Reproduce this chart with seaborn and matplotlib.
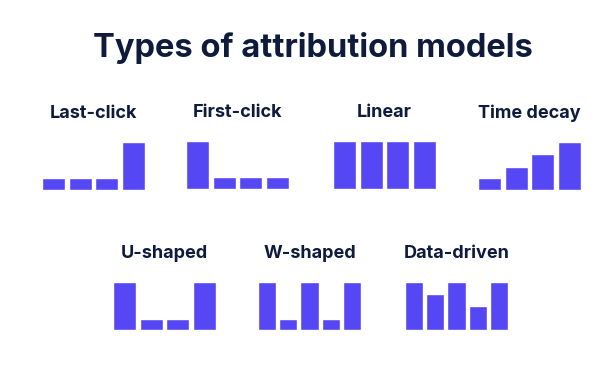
import matplotlib

matplotlib.use('Agg')

import pandas as pd  # noqa: E402
import seaborn as sns  # noqa: E402
from matplotlib import pyplot as plt  # noqa: E402

# credit share per touchpoint (tallest bar = 1)
model_names = ['Last-click', 'First-click', 'Linear', 'Time decay',
               'U-shaped', 'W-shaped', 'Data-driven']
last_click = [0.25, 0.25, 0.25, 1.0]
first_click = [1.0, 0.25, 0.25, 0.25]
linear = [1.0, 1.0, 1.0, 1.0]
time_decay = [0.25, 0.48, 0.75, 1.0]
u_shaped = [1.0, 0.23, 0.23, 1.0]
w_shaped = [1.0, 0.23, 1.0, 0.23, 1.0]
data_driven = [1.0, 0.75, 1.0, 0.49, 1.0]

BAR = '#5647F5'
INK = '#0F1B3D'
W, H = 600, 375
BAR_W = 0.86

# pixel boxes (left, right, baseline, top) for each small chart
boxes = [
    (42, 145, 190, 142),
    (186, 289, 189, 141),
    (333, 436, 189, 141),
    (478, 581, 190, 142),
    (113, 216, 330, 282),
    (258, 361, 330, 282),
    (405, 508, 330, 282),
]

sns.set_theme(style='white')
plt.rcParams['font.family'] = ['Inter', 'DejaVu Sans']

fig = plt.figure(figsize=(W / 100, H / 100), dpi=100)
fig.patch.set_facecolor('white')

fig.text(313 / W, 1 - 57 / H, 'Types of attribution models', ha='center',
         va='baseline', fontsize=23.5, fontweight='bold', color=INK)

series = [last_click, first_click, linear, time_decay, u_shaped, w_shaped, data_driven]
for name, values, (left, right, base, top) in zip(model_names, series, boxes):
    ax = fig.add_axes([left / W, 1 - base / H, (right - left) / W, (base - top) / H])
    frame = pd.DataFrame({'touch': [str(i + 1) for i in range(len(values))],
                          'credit': values})
    sns.barplot(frame, x='touch', y='credit', color=BAR, saturation=1,
                width=BAR_W, ax=ax)
    ax.set_xlim(-BAR_W / 2, len(values) - 1 + BAR_W / 2)
    ax.set_ylim(0, 1)
    ax.set_title(name, fontsize=13, fontweight='bold', color=INK, pad=17)
    ax.axis('off')

fig.savefig('out.png', dpi=100)
plt.close(fig)
